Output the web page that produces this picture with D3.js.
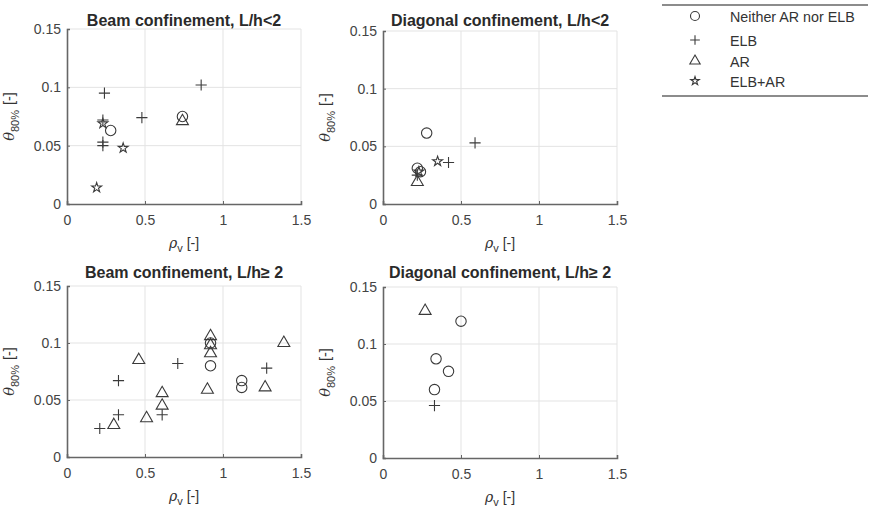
<!DOCTYPE html>
<html><head><meta charset="utf-8">
<script src="https://cdn.jsdelivr.net/npm/d3@7"></script>
<style>body{margin:0;background:#fff}svg{display:block}text{font-family:"Liberation Sans",Arial,sans-serif}</style>
</head><body><svg id="c" width="877" height="513"></svg>
<script>
const panelTitles = ["Beam confinement, L/h<2","Diagonal confinement, L/h<2","Beam confinement, L/h\u2265 2","Diagonal confinement, L/h\u2265 2"];
const groupNames = ["Neither AR nor ELB","ELB","AR","ELB+AR"];
const xTicks = [0,0.5,1,1.5];
const yTicks = [0,0.05,0.1,0.15];
// each point: [rho_v, theta_80, group index]
const panel1 = [[0.86,0.102,1],[0.24,0.095,1],[0.48,0.074,1],[0.74,0.075,0],[0.74,0.071,2],[0.23,0.072,1],[0.23,0.069,3],[0.28,0.063,0],[0.23,0.053,1],[0.23,0.050,1],[0.36,0.048,3],[0.19,0.014,3]];
const panel2 = [[0.28,0.0615,0],[0.59,0.053,1],[0.35,0.037,3],[0.42,0.036,1],[0.22,0.031,0],[0.24,0.028,0],[0.23,0.028,3],[0.22,0.025,1],[0.22,0.019,2]];
const panel3 = [[0.21,0.025,1],[0.30,0.028,2],[0.33,0.037,1],[0.33,0.067,1],[0.46,0.085,2],[0.51,0.034,2],[0.61,0.056,2],[0.61,0.045,2],[0.61,0.037,1],[0.71,0.082,1],[0.90,0.059,2],[0.92,0.106,2],[0.92,0.100,0],[0.92,0.098,2],[0.92,0.091,2],[0.92,0.080,0],[1.12,0.067,0],[1.12,0.061,0],[1.28,0.078,1],[1.27,0.061,2],[1.39,0.100,2]];
const panel4 = [[0.27,0.129,2],[0.50,0.120,0],[0.34,0.087,0],[0.42,0.076,0],[0.33,0.060,0],[0.33,0.046,1]];
const panelData = [panel1,panel2,panel3,panel4];

const svg = d3.select("#c");
const ink = "#3a3a3a";
const plus = {draw(ctx,size){const r=Math.sqrt(size)/2;ctx.moveTo(-r,0);ctx.lineTo(r,0);ctx.moveTo(0,-r);ctx.lineTo(0,r);}};
const symTypes = [d3.symbolCircle, plus, d3.symbolTriangle, d3.symbolStar];
const symSizes = [85, 125, 62, 30];
const sym = (g,s=1) => d3.symbol().type(symTypes[g]).size(symSizes[g]*s)();

const boxes = [
  {x0:67,x1:301,y0:29,y1:204,ty:26},
  {x0:383,x1:617,y0:31,y1:204,ty:26},
  {x0:67,x1:301,y0:286,y1:457,ty:278},
  {x0:383,x1:617,y0:287,y1:458,ty:278}
];

boxes.forEach((b,i)=>{
  const x = d3.scaleLinear().domain([0,1.5]).range([b.x0,b.x1]);
  const y = d3.scaleLinear().domain([0,0.15]).range([b.y1,b.y0]);
  const g = svg.append("g");
  g.selectAll(".gx").data(xTicks.slice(1)).join("line")
    .attr("x1",d=>x(d)).attr("x2",d=>x(d)).attr("y1",b.y0).attr("y2",b.y1)
    .attr("stroke","#e3e3e3").attr("stroke-width",1);
  g.selectAll(".gy").data(yTicks.slice(1)).join("line")
    .attr("x1",b.x0).attr("x2",b.x1).attr("y1",d=>y(d)).attr("y2",d=>y(d))
    .attr("stroke","#e3e3e3").attr("stroke-width",1);
  const xa = g.append("g").attr("transform",`translate(0,${b.y1})`)
    .call(d3.axisBottom(x).tickValues(xTicks).tickFormat(d3.format("")).tickSize(-3).tickPadding(11));
  const ya = g.append("g").attr("transform",`translate(${b.x0},0)`)
    .call(d3.axisLeft(y).tickValues(yTicks).tickFormat(d=>d===0?"0":String(+d.toFixed(2))).tickSize(-3).tickPadding(6));
  [xa,ya].forEach(a=>{
    a.select(".domain").attr("stroke","#666").attr("stroke-width",1.6);
    a.selectAll(".tick line").attr("stroke","#666");
    a.selectAll("text").attr("font-size",14).attr("fill","#444").style("font-family","'Liberation Sans',Arial,sans-serif");
  });
  g.append("text").attr("x",(b.x0+b.x1)/2).attr("y",b.ty).attr("text-anchor","middle")
    .attr("font-size",16).attr("font-weight","bold").attr("fill","#2a2a2a").text(panelTitles[i]);
  const xl = g.append("text").attr("x",(b.x0+b.x1)/2).attr("y",b.y1+44).attr("text-anchor","middle")
    .attr("font-size",14).attr("fill","#333");
  xl.append("tspan").attr("font-style","italic").attr("font-family","'DejaVu Serif',serif").text("\u03c1");
  xl.append("tspan").attr("font-size",11).attr("dy",4).text("v");
  xl.append("tspan").attr("dy",-4).attr("dx",4).text("[-]");
  const yl = g.append("text").attr("transform",`translate(${b.x0-53},${(b.y0+b.y1)/2}) rotate(-90)`)
    .attr("text-anchor","middle").attr("font-size",14.5).attr("fill","#333");
  yl.append("tspan").attr("font-style","italic").attr("font-family","'DejaVu Serif',serif").text("\u03b8");
  yl.append("tspan").attr("font-size",11).attr("dy",5).text("80%");
  yl.append("tspan").attr("dy",-5).attr("dx",5).text("[-]");
  g.selectAll(".pt").data(panelData[i]).join("path")
    .attr("transform",d=>`translate(${x(d[0])},${y(d[1])})`)
    .attr("d",d=>sym(d[2])).attr("fill","none").attr("stroke",ink).attr("stroke-width",1.1);
});

const lg = svg.append("g");
lg.append("line").attr("x1",662).attr("x2",868).attr("y1",5).attr("y2",5).attr("stroke","#666").attr("stroke-width",1.5);
lg.append("line").attr("x1",662).attr("x2",868).attr("y1",96).attr("y2",96).attr("stroke","#666").attr("stroke-width",1.5);
const ly = [16,40,61,81];
groupNames.forEach((n,k)=>{
  lg.append("path").attr("transform",`translate(695,${ly[k]})`).attr("d",sym(k,0.75))
    .attr("fill","none").attr("stroke",ink).attr("stroke-width",1.1);
  lg.append("text").attr("x",730).attr("y",ly[k]+5.5).attr("font-size",14.3).attr("fill","#333").text(n);
});
</script></body></html>
